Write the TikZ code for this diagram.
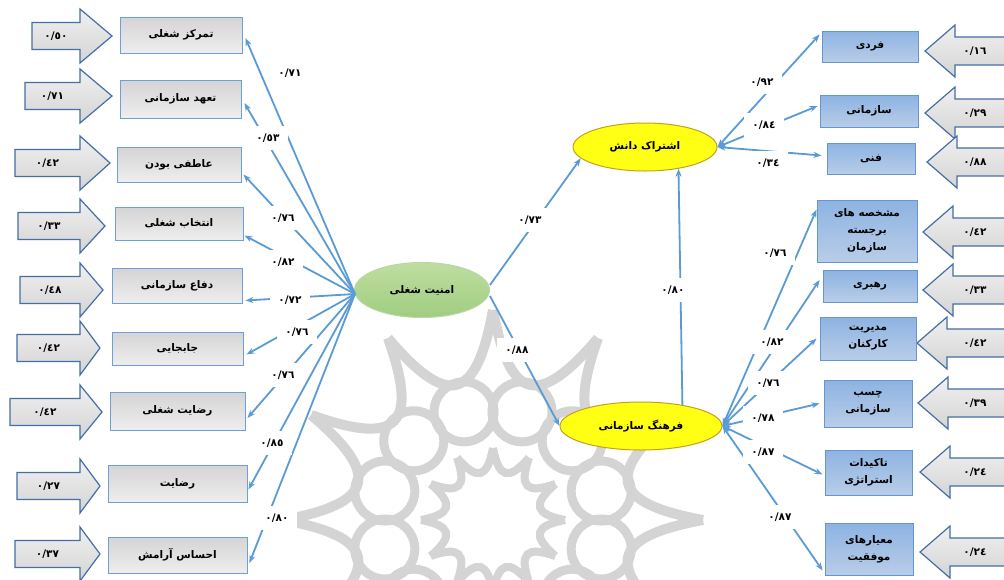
\documentclass[tikz,border=0pt]{standalone}
\usepackage{fontspec}
\TeXXeTstate=1
\newfontfamily\fa[Script=Arabic]{DejaVu Sans}
\usetikzlibrary{arrows.meta,shapes.geometric,calc}
\definecolor{lnk}{RGB}{91,155,213}
\definecolor{lboxb}{RGB}{110,160,215}
\definecolor{lboxt}{RGB}{212,212,212}
\definecolor{lboxu}{RGB}{238,238,238}
\definecolor{rboxb}{RGB}{100,150,210}
\definecolor{rboxt}{RGB}{141,179,226}
\definecolor{rboxu}{RGB}{185,205,232}
\definecolor{arrt}{RGB}{240,240,240}
\definecolor{arru}{RGB}{212,212,212}
\definecolor{arrb}{RGB}{70,110,165}
\definecolor{jst}{RGB}{190,222,160}
\definecolor{jsu}{RGB}{160,205,128}
\definecolor{jsb}{RGB}{185,215,165}
\definecolor{yelf}{RGB}{255,255,20}
\definecolor{yelb}{RGB}{196,160,30}
\definecolor{wm}{RGB}{212,212,212}
\newcommand\blockL[5]{%
  \draw[arrb, line width=1.2, top color=arrt, bottom color=arru]
    (#2,#4-13.5) -- (80,#4-13.5) -- (80,#4-27) -- (#3,#4) -- (80,#4+27) -- (80,#4+13.5) -- (#2,#4+13.5) -- cycle;
  \node[num] (#1) at ({(#2+80)/2},#4) {#5};}
\newcommand\blockR[4]{%
  \draw[arrb, line width=1.2, top color=arrt, bottom color=arru]
    (1012,#3-14) -- (#2+30,#3-14) -- (#2+30,#3-26) -- (#2,#3) -- (#2+30,#3+26) -- (#2+30,#3+14) -- (1012,#3+14) -- cycle;
  \node[num] (#1) at (975,#3) {#4};}
\begin{document}
\begin{tikzpicture}[x=1pt,y=-1pt,
  ptxt/.style={font=\fa\bfseries\fontsize{10.5}{17}\selectfont},
  lbox/.style={ptxt, draw=lboxb, line width=0.9, top color=lboxt, bottom color=lboxu, inner sep=2pt, align=center},
  rbox/.style={ptxt, draw=rboxb, line width=0.9, top color=rboxt, bottom color=rboxu, inner sep=2pt, align=center},
  num/.style={ptxt, inner sep=1pt},
  lab/.style={ptxt, fill=white, inner xsep=8pt, inner ysep=8pt},
  lk/.style={draw=lnk, line width=1.8pt, -{Stealth[length=8pt,width=6pt]}},
  lkk/.style={draw=lnk, line width=1.8pt, {Stealth[length=8pt,width=6pt]}-{Stealth[length=8pt,width=6pt]}},
  ovl/.style={ellipse, ptxt, inner sep=0pt, line width=1pt}
]
\useasboundingbox (0,0) rectangle (1004,579);
\fill[white] (0,0) rectangle (1004,579);
% watermark
\begin{scope}
\clip (0,0) rectangle (1004,579);
\foreach \k in {0,...,11}{
  \pgfmathsetmacro\a{30*\k}
  \draw[wm, line width=10pt] ({493+210*cos(\a)},{520-210*sin(\a)}) .. controls ({493+120*cos(\a+8)},{520-120*sin(\a+8)}) and ({493+120*cos(\a+22)},{520-120*sin(\a+22)}) .. ({493+210*cos(\a+30)},{520-210*sin(\a+30)});
  \draw[wm, line width=9pt] ({493+112*cos(\a+15)},{520-112*sin(\a+15)}) circle[radius=30];
  \draw[wm, line width=8pt] ({493+72*cos(\a)},{520-72*sin(\a)}) .. controls ({493+42*cos(\a+8)},{520-42*sin(\a+8)}) and ({493+42*cos(\a+22)},{520-42*sin(\a+22)}) .. ({493+72*cos(\a+30)},{520-72*sin(\a+30)});
}
\end{scope}
% left block arrows
\blockL{a1}{32}{112}{36}{٠/٥٠}
\blockL{a2}{25}{112}{96}{٠/٧١}
\blockL{a3}{15}{110}{163}{٠/٤٢}
\blockL{a4}{18}{105}{226}{٠/٣٣}
\blockL{a5}{20}{103}{290}{٠/٤٨}
\blockL{a6}{17}{100}{348}{٠/٤٢}
\blockL{a7}{10}{102}{412}{٠/٤٢}
\blockL{a8}{17}{100}{486}{٠/٢٧}
\blockL{a9}{15}{100}{554}{٠/٣٧}
% left boxes
\node[lbox, minimum width=122, minimum height=36] (b1) at (181,35) {\beginR تمرکز شغلی\endR};
\node[lbox, minimum width=121, minimum height=38] (b2) at (180.5,99) {\beginR تعهد سازمانی\endR};
\node[lbox, minimum width=124, minimum height=35] (b3) at (179,164.5) {\beginR عاطفی بودن\endR};
\node[lbox, minimum width=128, minimum height=33] (b4) at (179,223.5) {\beginR انتخاب شغلی\endR};
\node[lbox, minimum width=130, minimum height=35] (b5) at (177,285.5) {\beginR دفاع سازمانی\endR};
\node[lbox, minimum width=131, minimum height=33] (b6) at (177.5,348.5) {\beginR جابجایی\endR};
\node[lbox, minimum width=135, minimum height=38] (b7) at (177.5,411) {\beginR رضایت شغلی\endR};
\node[lbox, minimum width=139, minimum height=37] (b8) at (177.5,483.5) {\beginR رضایت\endR};
\node[lbox, minimum width=139, minimum height=36] (b9) at (177.5,555) {\beginR احساس آرامش\endR};
% right block arrows
\blockR{c1}{925}{51}{٠/١٦}
\blockR{c2}{925}{113}{٠/٢٩}
\blockR{c3}{927}{162}{٠/٨٨}
\blockR{c4}{923}{232}{٠/٤٢}
\blockR{c5}{923}{290}{٠/٣٣}
\blockR{c6}{917}{343}{٠/٤٢}
\blockR{c7}{918}{403}{٠/٣٩}
\blockR{c8}{920}{472}{٠/٢٤}
\blockR{c9}{920}{552}{٠/٢٤}
% right boxes
\node[rbox, minimum width=96, minimum height=31] (r1) at (870,46.5) {\beginR فردی\endR};
\node[rbox, minimum width=98, minimum height=32] (r2) at (869,111) {\beginR سازمانی\endR};
\node[rbox, minimum width=88, minimum height=31] (r3) at (871,158.5) {\beginR فنی\endR};
\node[rbox, minimum width=100, minimum height=62] (r4) at (867,231) {\beginR مشخصه های\endR\\\beginR برجسته\endR\\\beginR سازمان\endR};
\node[rbox, minimum width=94, minimum height=32] (r5) at (870,286) {\beginR رهبری\endR};
\node[rbox, minimum width=96, minimum height=43] (r6) at (868,338.5) {\beginR مدیریت\endR\\\beginR کارکنان\endR};
\node[rbox, minimum width=88, minimum height=47] (r7) at (868,403.5) {\beginR چسب\endR\\\beginR سازمانی\endR};
\node[rbox, minimum width=87, minimum height=45] (r8) at (868.5,472.5) {\beginR تاکیدات\endR\\\beginR استراتژی\endR};
\node[rbox, minimum width=88, minimum height=52] (r9) at (869,549) {\beginR معیارهای\endR\\\beginR موفقیت\endR};
% ellipses
\node[ovl, draw=jsb, top color=jst, bottom color=jsu, minimum width=135, minimum height=55] (js) at (422,290) {\beginR امنیت شغلی\endR};
\node[ovl, draw=yelb, fill=yelf, minimum width=144, minimum height=48] (kd) at (645,147) {\beginR اشتراک دانش\endR};
\node[ovl, draw=yelb, fill=yelf, minimum width=162, minimum height=48] (fs) at (641,426) {\beginR فرهنگ سازمانی\endR};
\coordinate (jsw) at ($(js.west)+(1,4)$);
% left connectors
\draw[lk] (jsw) -- ([xshift=3pt,yshift=-3pt]b1.east);
\draw[lk] (jsw) -- ([xshift=3pt,yshift=-4pt]b2.east);
\draw[lk] (jsw) -- ([xshift=2pt,yshift=-10pt]b3.east);
\draw[lk] (jsw) -- ([xshift=1pt,yshift=-12pt]b4.east);
\draw[lk] (jsw) -- ([xshift=3pt,yshift=-15pt]b5.east);
\draw[lk] (jsw) -- ([xshift=3pt,yshift=-6pt]b6.east);
\draw[lk] (jsw) -- ([xshift=2pt,yshift=-7pt]b7.east);
\draw[lk] (jsw) -- ([xshift=1pt,yshift=-6pt]b8.east);
\draw[lk] (jsw) -- ([xshift=2pt,yshift=-8pt]b9.east);
% central connectors
\draw[lk] ([yshift=5pt]js.east) -- (kd.190);
\draw[lk] ([yshift=-6pt]js.east) -- (fs.west);
\draw[lk] (fs.27) -- (kd.-33);
% right connectors
\draw[lkk] (kd.east) -- ([xshift=-2pt,yshift=-4pt]r1.north west);
\draw[lkk] (kd.east) -- ([xshift=-2pt,yshift=5pt]r2.west);
\draw[lkk] (kd.east) -- ([xshift=-5pt,yshift=3pt]r3.west);
\draw[lkk] (fs.east) -- ([yshift=-10pt]r4.north west);
\draw[lkk] (fs.east) -- ([xshift=-3pt,yshift=6pt]r5.west);
\draw[lkk] (fs.east) -- ([xshift=-3pt]r6.west);
\draw[lkk] (fs.east) -- ([xshift=-4pt]r7.west);
\draw[lkk] (fs.east) -- ([xshift=-2pt,yshift=-2pt]r8.west);
\draw[lkk] (fs.east) -- ([xshift=-2pt,yshift=5pt]r9.south west);
% labels
\node[lab] (l1) at (290,73) {٠/٧١};
\node[lab] (l2) at (268,138) {٠/٥٣};
\node[lab] (l3) at (283,218) {٠/٧٦};
\node[lab] (l4) at (283,262) {٠/٨٢};
\node[lab] (l5) at (290,300) {٠/٧٢};
\node[lab] (l6) at (297,332) {٠/٧٦};
\node[lab] (l7) at (283,375) {٠/٧٦};
\node[lab] (l8) at (272,443) {٠/٨٥};
\node[lab] (l9) at (277,518) {٠/٨٠};
\node[lab] (m1) at (530,220) {٠/٧٣};
\node[lab] (m2) at (517,350) {٠/٨٨};
\node[lab] (m3) at (673,290) {٠/٨٠};
\node[lab] (k1) at (762,82) {٠/٩٢};
\node[lab] (k2) at (764,125) {٠/٨٤};
\node[lab] (k3) at (768,163) {٠/٣٤};
\node[lab] (f1) at (775,253) {٠/٧٦};
\node[lab] (f2) at (772,342) {٠/٨٢};
\node[lab] (f3) at (768,383) {٠/٧٦};
\node[lab] (f4) at (763,418) {٠/٧٨};
\node[lab] (f5) at (763,452) {٠/٨٧};
\node[lab] (f6) at (780,517) {٠/٨٧};
\end{tikzpicture}
\end{document}
